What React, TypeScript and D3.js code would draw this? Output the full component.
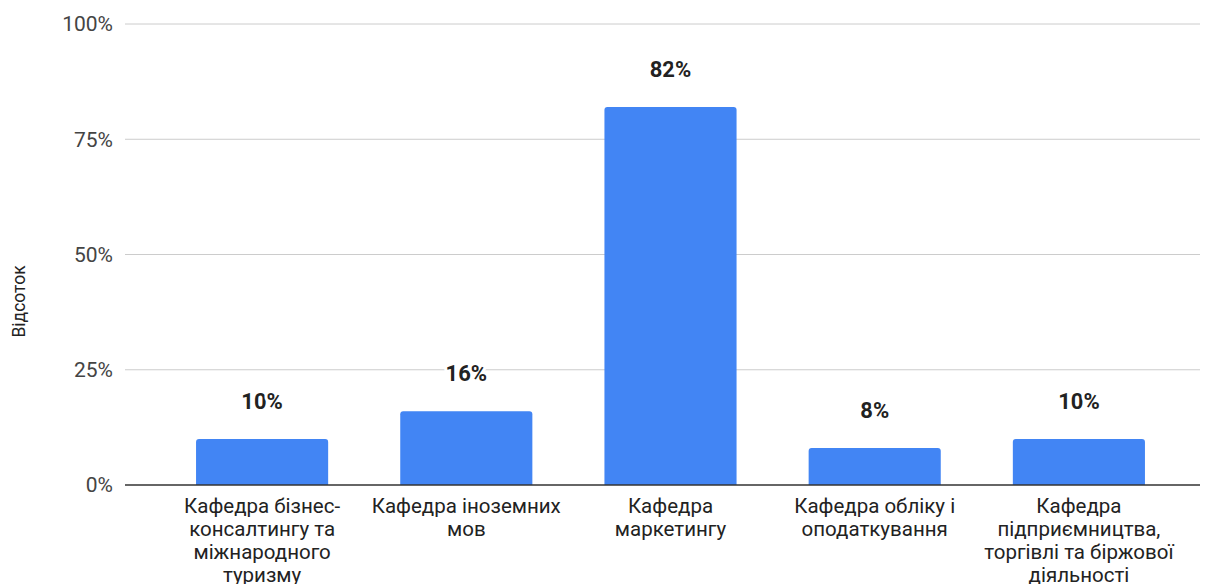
import React from "react";
import * as d3 from "d3";

const categories = [
  "Кафедра бізнес-\nконсалтингу та\nміжнародного\nтуризму",
  "Кафедра іноземних\nмов",
  "Кафедра\nмаркетингу",
  "Кафедра обліку і\nоподаткування",
  "Кафедра\nпідприємництва,\nторгівлі та біржової\nдіяльності",
];
const values = [10, 16, 82, 8, 10];
const yTicks = [0, 25, 50, 75, 100];
const yTitle = "Відсоток";

const W = 1215;
const H = 584;
const plotLeft = 125;
const plotRight = 1200;
const plotTop = 24;
const plotBottom = 485;

export default function App() {
  const x = d3
    .scaleBand<number>()
    .domain(d3.range(categories.length))
    .range([160, 1181])
    .paddingInner(0.353)
    .paddingOuter(0.1765);
  const y = d3.scaleLinear().domain([0, 100]).range([plotBottom, plotTop]);
  const font = "Roboto, Arial, sans-serif";

  const barPath = (x0: number, y0: number, w: number, h: number, r: number) => {
    const rr = Math.min(r, h / 2);
    return `M${x0},${y0 + h}V${y0 + rr}Q${x0},${y0} ${x0 + rr},${y0}H${x0 + w - rr}Q${x0 + w},${y0} ${x0 + w},${y0 + rr}V${y0 + h}Z`;
  };

  return (
    <svg
      width={W}
      height={H}
      style={{ position: "absolute", left: 0, top: 0, background: "#fff" }}
      fontFamily={font}
    >
      {yTicks.map((t) => (
        <g key={t}>
          {t !== 0 && (
            <line
              x1={plotLeft}
              x2={plotRight}
              y1={y(t)}
              y2={y(t)}
              stroke="#cccccc"
              strokeWidth={1}
            />
          )}
          <text
            x={113}
            y={y(t)}
            dy="0.35em"
            textAnchor="end"
            fontSize={21}
            fill="#444"
          >
            {t}%
          </text>
        </g>
      ))}
      <text
        transform={`translate(25,${(plotTop + plotBottom) / 2 + 47}) rotate(-90)`}
        textAnchor="middle"
        fontSize={17.5}
        fill="#222"
      >
        {yTitle}
      </text>
      {values.map((v, i) => {
        const bx = x(i)!;
        const bw = x.bandwidth();
        const by = y(v);
        return (
          <g key={i}>
            <path d={barPath(bx, by, bw, plotBottom - by, 3)} fill="#4285f4" />
            <text
              x={bx + bw / 2}
              y={by - 30}
              textAnchor="middle"
              fontSize={22}
              fontWeight="bold"
              fill="#222"
              stroke="#fff"
              strokeWidth={6}
              strokeLinejoin="round"
              paintOrder="stroke"
            >
              {v}%
            </text>
          </g>
        );
      })}
      <line
        x1={plotLeft}
        x2={plotRight}
        y1={plotBottom}
        y2={plotBottom}
        stroke="#333"
        strokeWidth={1.3}
      />
      {categories.map((c, i) => {
        const cx = x(i)! + x.bandwidth() / 2;
        return (
          <text key={i} textAnchor="middle" fontSize={20.5} fill="#222">
            {c.split("\n").map((line, j) => (
              <tspan key={j} x={cx} y={513 + j * 23}>
                {line}
              </tspan>
            ))}
          </text>
        );
      })}
    </svg>
  );
}
